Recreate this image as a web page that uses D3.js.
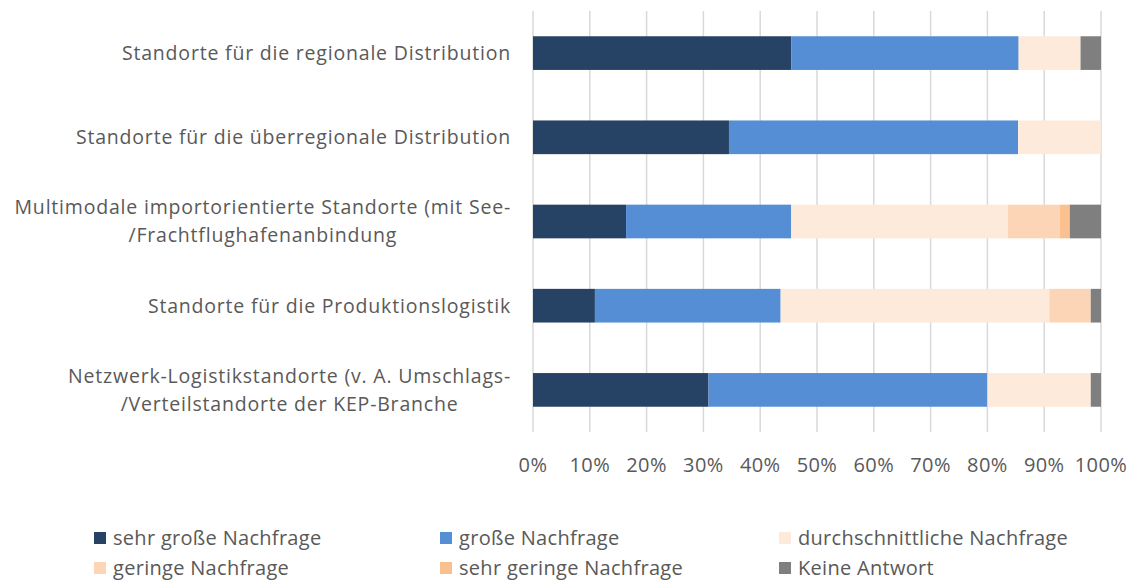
<!DOCTYPE html>
<html>
<head>
<meta charset="utf-8">
<script src="https://cdn.jsdelivr.net/npm/d3@7"></script>
<style>
  body { margin: 0; background: #fff; }
  svg text { font-family: "Open Sans", sans-serif; fill: #595959; }
</style>
</head>
<body>
<div id="chart"></div>
<script>
// Kategorien (von oben nach unten), Zeilen getrennt mit "\n"
const categories = [
  "Standorte für die regionale Distribution",
  "Standorte für die überregionale Distribution",
  "Multimodale importorientierte Standorte (mit See-\n/Frachtflughafenanbindung",
  "Standorte für die Produktionslogistik",
  "Netzwerk-Logistikstandorte (v. A. Umschlags-\n/Verteilstandorte der KEP-Branche"
];
const seriesNames = [
  "sehr große Nachfrage", "große Nachfrage", "durchschnittliche Nachfrage",
  "geringe Nachfrage", "sehr geringe Nachfrage", "Keine Antwort"
];
const seriesColors = ["#264264", "#558ed5", "#fdeada", "#fbd5b5", "#fac090", "#7f7f7f"];
// Anteile in % je Kategorie
const sehrGross   = [45.5, 34.5, 16.4, 10.9, 30.9];
const gross       = [40.0, 50.9, 29.1, 32.7, 49.1];
const durchschn   = [10.9, 14.6, 38.2, 47.3, 18.2];
const gering      = [0, 0, 9.1, 7.3, 0];
const sehrGering  = [0, 0, 1.8, 0, 0];
const keineAntw   = [3.6, 0, 5.5, 1.8, 1.8];
const tickValues  = [0, 10, 20, 30, 40, 50, 60, 70, 80, 90, 100];

const width = 1133, height = 581;
const margin = {top: 11, right: 32, bottom: 149, left: 533};

const rows = categories.map((c, i) => {
  const vals = [sehrGross[i], gross[i], durchschn[i], gering[i], sehrGering[i], keineAntw[i]];
  const total = d3.sum(vals);
  const r = {cat: c};
  seriesNames.forEach((s, j) => r[s] = vals[j] / total * 100);
  return r;
});

const stacked = d3.stack().keys(seriesNames)(rows);

const x = d3.scaleLinear().domain([0, 100]).range([margin.left, width - margin.right]);
const y = d3.scaleBand().domain(categories).range([margin.top, height - margin.bottom])
  .paddingInner(0.6).paddingOuter(0.3);

const svg = d3.select("#chart").append("svg")
  .attr("width", width).attr("height", height);

// Gitternetz
svg.append("g").selectAll("line").data(tickValues).join("line")
  .attr("x1", d => x(d)).attr("x2", d => x(d))
  .attr("y1", margin.top).attr("y2", height - margin.bottom)
  .attr("stroke", "#d9d9d9").attr("stroke-width", 1.5);

// Balken
svg.append("g").selectAll("g").data(stacked).join("g")
  .attr("fill", (d, i) => seriesColors[i])
  .selectAll("rect").data(d => d).join("rect")
  .attr("x", d => x(d[0]))
  .attr("width", d => x(d[1]) - x(d[0]))
  .attr("y", d => y(d.data.cat))
  .attr("height", y.bandwidth());

// x-Achse Beschriftung
svg.append("g").selectAll("text").data(tickValues).join("text")
  .attr("x", d => x(d)).attr("y", 472)
  .attr("text-anchor", "middle")
  .attr("font-size", "20px")
  .attr("letter-spacing", "0.4px")
  .text(d => d + "%");

// Kategorien
const labelX = 511, lineH = 28;
categories.forEach(c => {
  const lines = c.split("\n");
  const g = svg.append("g");
  const texts = lines.map((ln, k) => g.append("text")
    .attr("font-size", "19.5px")
    .attr("letter-spacing", "0.8px")
    .attr("y", y(c) + y.bandwidth() / 2 + (k - (lines.length - 1) / 2) * lineH)
    .attr("dy", "0.35em")
    .text(ln));
  const w = d3.max(texts, t => t.node().getComputedTextLength());
  texts.forEach(t => t.attr("text-anchor", "middle").attr("x", labelX - w / 2));
});

// Legende
const legendCols = [94, 440, 779], legendRows = [538, 568];
const legend = svg.append("g").selectAll("g").data(seriesNames).join("g")
  .attr("transform", (d, i) => `translate(${legendCols[i % 3]},${legendRows[Math.floor(i / 3)]})`);
legend.append("rect").attr("x", 0).attr("y", -6).attr("width", 12).attr("height", 12)
  .attr("fill", (d, i) => seriesColors[i]);
legend.append("text").attr("x", 19).attr("dy", "0.35em")
  .attr("font-size", "20px").attr("letter-spacing", "0.3px").text(d => d);
</script>
</body>
</html>
